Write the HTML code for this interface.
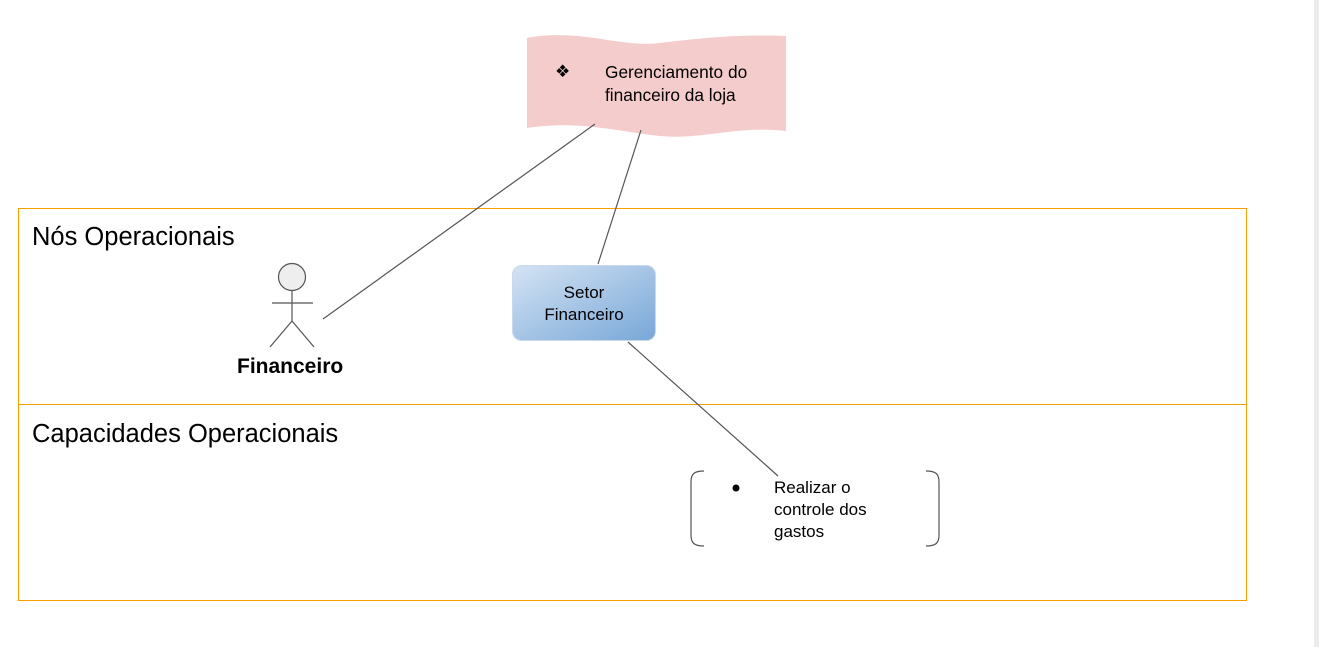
<!DOCTYPE html>
<html><head><style>
body{margin:0;width:1319px;height:647px;background:#fff;position:relative;overflow:hidden;font-family:"Liberation Sans",sans-serif;}
.t{position:absolute;color:#000;}
</style></head><body>
<svg width="1319" height="647" style="position:absolute;left:0;top:0">
<defs><linearGradient id="g" x1="0" y1="0" x2="1" y2="1"><stop offset="0" stop-color="#d4e3f3"/><stop offset="1" stop-color="#78a7d8"/></linearGradient></defs>
<rect x="1314" y="0" width="5" height="647" fill="#ececec"/>
<path d="M527,38 C580,28 620,48 660,43 C700,38 740,34 786,36 L786,131 C740,125 700,140 660,136 C620,132 580,120 527,128 Z" fill="#f4cccc"/>
<rect x="18.5" y="208.5" width="1228" height="196" fill="none" stroke="#f5a000" stroke-width="1"/>
<rect x="18.5" y="404.5" width="1228" height="196" fill="none" stroke="#f5a000" stroke-width="1"/>
<line x1="595" y1="124" x2="323" y2="319" stroke="#555" stroke-width="1.2"/>
<line x1="641" y1="130" x2="598" y2="264" stroke="#555" stroke-width="1.2"/>
<line x1="628" y1="342" x2="778" y2="476" stroke="#555" stroke-width="1.2"/>
<rect x="512.5" y="265.5" width="143" height="75" rx="9" fill="url(#g)" stroke="#c9d9ea"/>
<g stroke="#555" stroke-width="1.2" fill="none">
<circle cx="292" cy="277" r="13.5" fill="#eee"/>
<line x1="292" y1="290.5" x2="292" y2="321"/>
<line x1="272" y1="303" x2="313" y2="303"/>
<line x1="292" y1="321" x2="270" y2="347"/>
<line x1="292" y1="321" x2="314" y2="347"/>
<path d="M704,471 C694,471 691,474 691,482 L691,535 C691,543 694,546 704,546"/>
<path d="M926,471 C936,471 939,474 939,482 L939,535 C939,543 936,546 926,546"/>
</g>
<circle cx="736" cy="488" r="3.5" fill="#000"/>
</svg>
<div class="t" style="left:555px;top:62px;font-size:17px">❖</div>
<div class="t" style="left:605px;top:61px;font-size:17.3px;line-height:23px">Gerenciamento do<br>financeiro da loja</div>
<div class="t" style="left:32px;top:223px;font-size:25.5px">Nós Operacionais</div>
<div class="t" style="left:32px;top:420px;font-size:25.5px">Capacidades Operacionais</div>
<div class="t" style="left:237px;top:355px;font-size:21px;font-weight:bold">Financeiro</div>
<div class="t" style="left:512px;top:282px;width:144px;text-align:center;font-size:17px;line-height:22px">Setor<br>Financeiro</div>
<div class="t" style="left:774px;top:477px;font-size:17px;line-height:22px">Realizar o<br>controle dos<br>gastos</div>
</body></html>
